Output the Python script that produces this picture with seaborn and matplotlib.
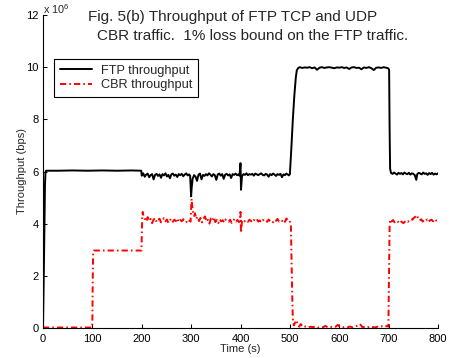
import numpy as np
import pandas as pd
import matplotlib
matplotlib.use("Agg")
import matplotlib.pyplot as plt
import seaborn as sns

# ---------------- data (throughput in units of 10^6 bps) ----------------
ftp_time = [0, 1, 2, 3, 4, 5, 6, 30, 60, 90, 120, 150, 180, 199,
            200, 203, 206, 209, 212, 215, 218, 221, 224, 227, 230, 233, 236, 239, 242, 245,
            248, 251, 254, 257, 260, 263, 266, 269, 272, 275, 278, 281, 284, 287, 290, 293,
            296, 298,
            300, 301, 303, 306, 309, 312, 315, 318, 321, 324, 327, 330, 333, 336, 339, 342,
            345, 348, 351, 354, 357, 360, 363, 366, 369, 372, 375, 378, 381, 384, 387, 390,
            393, 396, 398,
            400, 401, 403, 406, 409, 412, 415, 418, 421, 424, 427, 430, 433, 436, 439, 442,
            445, 448, 451, 454, 457, 460, 463, 466, 469, 472, 475, 478, 481, 484, 487, 490,
            493, 496, 498,
            500, 503, 506, 509, 512, 514, 517,
            520, 525, 530, 535, 540, 545, 550, 555, 560, 565, 570, 575, 580, 585, 590, 595,
            600, 605, 610, 615, 620, 625, 630, 635, 640, 645, 650, 655, 660, 665, 670, 675,
            680, 685, 690, 695,
            699, 701, 702, 703, 705,
            708, 711, 714, 717, 720, 723, 726, 729, 732, 735, 738, 741, 744, 747, 750, 753,
            756, 758, 761, 764, 767, 770, 773, 776, 779, 782, 785, 788, 791, 794, 797, 800]
ftp_bps = [0.0, 1.2, 2.6, 4.2, 5.5, 5.95, 6.03, 6.03, 6.04, 6.03, 6.04, 6.03, 6.04, 6.03,
           5.84, 5.93, 5.80, 5.88, 5.92, 5.78, 5.86, 5.90, 5.70, 5.87, 5.91, 5.83, 5.89, 5.76,
           5.90, 5.85, 5.93, 5.81, 5.87, 5.74, 5.89, 5.92, 5.84, 5.88, 5.79, 5.90, 5.86, 5.91,
           5.82, 5.88, 5.93, 5.85, 5.89, 5.83,
           5.05, 5.35, 5.72, 5.86, 5.80, 5.64, 5.88, 5.92, 5.70, 5.87, 5.83, 5.90, 5.85, 5.93,
           5.88, 5.81, 5.90, 5.86, 5.68, 5.89, 5.92, 5.84, 5.90, 5.72, 5.88, 5.91, 5.85, 5.89,
           5.75, 5.90, 5.87, 5.92, 5.86, 5.89, 5.84,
           6.32, 5.30, 5.82, 5.90, 5.87, 5.93, 5.86, 5.90, 5.88, 5.91, 5.84, 5.92, 5.89, 5.86,
           5.90, 5.93, 5.87, 5.85, 5.91, 5.88, 5.80, 5.90, 5.86, 5.92, 5.88, 5.83, 5.90, 5.87,
           5.91, 5.78, 5.89, 5.86, 5.92, 5.88, 5.85,
           5.90, 6.90, 8.00, 8.90, 9.60, 9.88, 9.97,
           10.0, 9.97, 9.99, 9.98, 10.0, 9.96, 9.99, 9.90, 9.98, 10.0, 9.97, 9.99, 10.0, 9.98,
           9.96, 9.99, 9.98, 10.0, 9.97, 9.99, 9.93, 9.99, 10.0, 9.97, 9.98, 9.92, 9.99, 9.97,
           10.0, 9.96, 9.89, 9.98, 9.99, 9.97, 10.0, 9.98,
           9.96, 9.90, 7.60, 6.10, 5.94,
           5.91, 5.96, 5.92, 5.88, 5.95, 5.91, 5.94, 5.89, 5.96, 5.92, 5.90, 5.95, 5.88, 5.93,
           5.91, 5.86, 5.68, 5.90, 5.95, 5.92, 5.89, 5.96, 5.91, 5.93, 5.87, 5.94, 5.90, 5.95,
           5.88, 5.92, 5.89, 5.93]

cbr_time = [0, 50, 99.5, 100, 100.7, 101.5, 103, 150, 199.5,
            200, 201, 202, 204,
            206, 209, 212, 215, 218, 221, 224, 227, 230, 233, 236, 239, 242, 245, 248, 251,
            254, 257, 260, 263, 266, 269, 272, 275, 278, 281, 284, 287, 290, 293, 296, 299,
            300, 301, 302, 304, 306, 308, 310, 313, 316, 319, 322, 325, 328, 331, 334, 337,
            340, 343, 346, 349, 352, 355, 358, 361, 364, 367, 370, 373, 376, 379, 382, 385,
            388, 391, 394, 397,
            399, 400, 401, 403, 406, 409, 412, 415, 418, 421, 424, 427, 430, 433, 436, 439,
            442, 445, 448, 451, 454, 457, 460, 463, 466, 469, 472, 475, 478, 481, 484, 487,
            490, 493, 496, 499,
            502, 503, 504, 505, 506, 508, 511, 513, 516, 519,
            522, 527, 532, 537, 542, 547, 552, 557, 562, 567, 572, 577, 582, 587, 592, 597,
            602, 607, 612, 617, 622, 627, 632, 637, 642, 647, 652, 657, 662, 667, 672, 677,
            682, 687, 692, 697, 699.5,
            700, 701, 702, 703,
            706, 709, 712, 715, 718, 721, 724, 727, 730, 733, 736, 739, 742, 745, 748, 751,
            754, 757, 760, 763, 766, 769, 772, 775, 778, 781, 784, 787, 790, 793, 796, 800]
cbr_bps = [0.02, 0.02, 0.02, 0.3, 1.8, 2.9, 2.97, 2.97, 2.97,
           3.5, 4.3, 4.45, 4.25,
           4.20, 4.08, 4.25, 4.10, 4.18, 4.02, 4.15, 4.22, 4.06, 4.14, 4.19, 4.05, 4.12, 4.21,
           4.09, 4.16, 4.03, 4.13, 4.18, 4.07, 4.15, 4.10, 4.20, 4.06, 4.14, 4.09, 4.17, 4.11,
           4.05, 4.16, 4.12, 4.08,
           4.60, 4.95, 4.70, 4.45, 4.30, 4.40, 4.18, 4.26, 4.10, 4.22, 4.05, 4.18, 4.28, 4.08,
           4.15, 4.00, 4.20, 4.12, 4.25, 4.06, 4.14, 4.02, 4.17, 4.09, 4.13, 4.04, 4.16, 4.10,
           4.07, 4.15, 4.03, 4.12, 4.18, 4.08, 4.14, 4.06,
           4.10, 4.45, 3.65, 4.10, 4.16, 4.09, 4.13, 4.07, 4.15, 4.11, 4.05, 4.14, 4.10, 4.17,
           4.08, 4.12, 4.06, 4.15, 4.10, 4.13, 4.07, 4.16, 4.09, 4.12, 4.05, 4.14, 4.11, 4.18,
           4.08, 4.13, 4.10, 4.16, 4.07, 4.20, 4.11, 4.12,
           4.00, 3.00, 2.00, 1.00, 0.35, 0.10, 0.22, 0.30, 0.12, 0.05,
           0.15, 0.03, 0.06, 0.02, 0.05, 0.03, 0.07, 0.02, 0.04, 0.03, 0.08, 0.02, 0.05, 0.03,
           0.04, 0.12, 0.03, 0.02, 0.05, 0.03, 0.06, 0.02, 0.04, 0.10, 0.15, 0.03, 0.05, 0.02,
           0.06, 0.04, 0.02, 0.05, 0.03, 0.07, 0.04, 0.08, 0.05,
           0.8, 2.6, 3.9, 4.15,
           4.08, 4.14, 4.05, 4.11, 4.09, 4.03, 4.10, 4.06, 4.02, 4.08, 4.12, 4.07, 4.14, 4.18,
           4.15, 4.22, 4.26, 4.33, 4.20, 4.12, 4.17, 4.08, 4.14, 4.10, 4.16, 4.07, 4.13, 4.15,
           4.09, 4.17, 4.12, 4.14]

series_names = ["FTP throughput", "CBR throughput"]
x_ticks = [0, 100, 200, 300, 400, 500, 600, 700, 800]
y_ticks = [0, 2, 4, 6, 8, 10, 12]
title_line1 = "Fig. 5(b) Throughput of FTP TCP and UDP"
title_line2 = "CBR traffic.  1% loss bound on the FTP traffic."

df = pd.concat([
    pd.DataFrame({"Time (s)": ftp_time, "Throughput": ftp_bps, "series": series_names[0]}),
    pd.DataFrame({"Time (s)": cbr_time, "Throughput": cbr_bps, "series": series_names[1]}),
], ignore_index=True)

# ---------------- style ----------------
sns.set_style("ticks")
plt.rcParams["font.family"] = ["Liberation Sans", "DejaVu Sans"]
plt.rcParams["mathtext.fontset"] = "custom"
plt.rcParams["mathtext.rm"] = "Liberation Sans"
plt.rcParams["mathtext.it"] = "Liberation Sans"

W, H = 457, 358
fig = plt.figure(figsize=(W / 100, H / 100), dpi=100)
ax = fig.add_axes([43 / W, 30 / H, 395 / W, 313 / H])

sns.lineplot(data=df, x="Time (s)", y="Throughput", hue="series", style="series",
             hue_order=series_names, style_order=series_names,
             palette={series_names[0]: "black", series_names[1]: "red"},
             dashes={series_names[0]: "", series_names[1]: (3.2, 1.6, 0.8, 1.6)},
             estimator=None, sort=False, linewidth=1.4, legend=False, ax=ax)

ax.set_xlim(0, 800)
ax.set_ylim(0, 12)
ax.set_xticks(x_ticks)
ax.set_yticks(y_ticks)
ax.set_xticklabels([str(v) for v in x_ticks])
ax.set_yticklabels([str(v) for v in y_ticks])
ax.tick_params(direction="in", length=3, width=0.75, labelsize=8, colors="black")
ax.tick_params(axis="x", pad=4)
ax.tick_params(axis="y", pad=3)
for s in ["top", "right"]:
    ax.spines[s].set_visible(False)
for s in ["left", "bottom"]:
    ax.spines[s].set_linewidth(0.8)
    ax.spines[s].set_color("black")

ax.set_xlabel("Time (s)", fontsize=8)
ax.set_ylabel("Throughput (bps)", fontsize=8)
ax.xaxis.set_label_coords(0.5, -0.052)
ax.yaxis.set_label_coords(-0.040, 0.5)

lines = ax.get_lines()[:2]
leg = ax.legend(lines, series_names, loc="upper left",
                bbox_to_anchor=(54 / W, 1 - 59 / H), bbox_transform=fig.transFigure,
                borderaxespad=0, fontsize=9.2, frameon=True, fancybox=False,
                handlelength=2.5, handletextpad=0.7, labelspacing=0.2,
                borderpad=0.45)
leg.get_frame().set_edgecolor("black")
leg.get_frame().set_linewidth(0.8)
leg.get_frame().set_alpha(1)

fig.text(43 / W, 1 - 13.5 / H, r"x 10$^6$", fontsize=7.8, va="baseline", ha="left")
fig.text(88 / W, 1 - 21 / H, title_line1, fontsize=11, va="baseline", ha="left")
fig.text(97 / W, 1 - 39.5 / H, title_line2, fontsize=11, va="baseline", ha="left")

fig.savefig("out.png", dpi=100, facecolor="white")
